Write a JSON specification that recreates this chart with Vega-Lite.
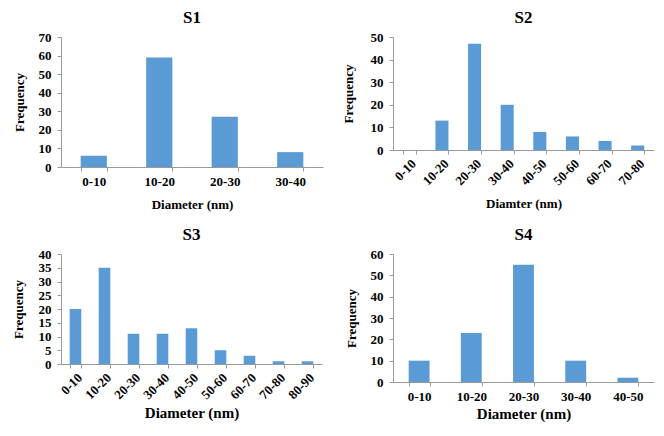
{
  "$schema": "https://vega.github.io/schema/vega-lite/v6.json",
  "padding": {"left": 12, "top": 9, "right": 5, "bottom": 5},
  "background": "white",
  "config": {
    "view": {"stroke": null},
    "font": "Liberation Serif",
    "bar": {"color": "#5B9BD5"},
    "axis": {
      "grid": false,
      "domainColor": "#9a9a9a",
      "tickColor": "#9a9a9a",
      "tickSize": 4,
      "labelFont": "Liberation Serif",
      "labelFontWeight": "bold",
      "labelFontSize": 13,
      "labelColor": "#000",
      "titleFont": "Liberation Serif",
      "titleFontWeight": "bold",
      "titleFontSize": 13,
      "titleColor": "#000"
    },
    "axisY": {"labelPadding": 6, "titlePadding": 12},
    "title": {"font": "Liberation Serif", "fontSize": 17, "fontWeight": "bold", "color": "#000", "baseline": "alphabetic", "offset": 4}
  },
  "datasets": {
    "s1": [
      {"bin": "0-10", "freq": 6}, {"bin": "10-20", "freq": 59}, {"bin": "20-30", "freq": 27}, {"bin": "30-40", "freq": 8}
    ],
    "s2": [
      {"bin": "0-10", "freq": 0}, {"bin": "10-20", "freq": 13}, {"bin": "20-30", "freq": 47}, {"bin": "30-40", "freq": 20},
      {"bin": "40-50", "freq": 8}, {"bin": "50-60", "freq": 6}, {"bin": "60-70", "freq": 4}, {"bin": "70-80", "freq": 2}
    ],
    "s3": [
      {"bin": "0-10", "freq": 20}, {"bin": "10-20", "freq": 35}, {"bin": "20-30", "freq": 11}, {"bin": "30-40", "freq": 11},
      {"bin": "40-50", "freq": 13}, {"bin": "50-60", "freq": 5}, {"bin": "60-70", "freq": 3}, {"bin": "70-80", "freq": 1}, {"bin": "80-90", "freq": 1}
    ],
    "s4": [
      {"bin": "0-10", "freq": 10}, {"bin": "10-20", "freq": 23}, {"bin": "20-30", "freq": 55}, {"bin": "30-40", "freq": 10}, {"bin": "40-50", "freq": 2}
    ]
  },
  "bounds": "flush",
  "columns": 2,
  "spacing": {"row": 87, "column": 70},
  "concat": [
    {
      "title": "S1",
      "width": 262, "height": 130,
      "data": {"name": "s1"},
      "mark": "bar",
      "encoding": {
        "x": {"field": "bin", "type": "nominal", "sort": null, "scale": {"paddingInner": 0.6, "paddingOuter": 0.3},
              "axis": {"title": "Diameter (nm)", "labelAngle": 0, "tickBand": "extent", "labelPadding": 4, "titlePadding": 10}},
        "y": {"field": "freq", "type": "quantitative", "scale": {"domain": [0, 70]},
              "axis": {"title": "Frequency", "values": [0, 10, 20, 30, 40, 50, 60, 70]}}
      }
    },
    {
      "title": "S2",
      "width": 261, "height": 113,
      "data": {"name": "s2"},
      "mark": "bar",
      "encoding": {
        "x": {"field": "bin", "type": "nominal", "sort": null, "scale": {"paddingInner": 0.6, "paddingOuter": 0.3},
              "axis": {"title": "Diamter (nm)", "labelAngle": -45, "tickBand": "extent", "labelPadding": 3, "titlePadding": 10}},
        "y": {"field": "freq", "type": "quantitative", "scale": {"domain": [0, 50]},
              "axis": {"title": "Frequency", "values": [0, 10, 20, 30, 40, 50], "titlePadding": 15}}
      }
    },
    {
      "title": "S3",
      "width": 261, "height": 110,
      "data": {"name": "s3"},
      "mark": "bar",
      "encoding": {
        "x": {"field": "bin", "type": "nominal", "sort": null, "scale": {"paddingInner": 0.6, "paddingOuter": 0.3},
              "axis": {"title": "Diameter (nm)", "labelAngle": -45, "tickBand": "extent", "labelPadding": 3, "titlePadding": 4, "titleFontSize": 15}},
        "y": {"field": "freq", "type": "quantitative", "scale": {"domain": [0, 40]},
              "axis": {"title": "Frequency", "values": [0, 5, 10, 15, 20, 25, 30, 35, 40], "titlePadding": 13}}
      }
    },
    {
      "title": "S4",
      "width": 261, "height": 128,
      "data": {"name": "s4"},
      "mark": "bar",
      "encoding": {
        "x": {"field": "bin", "type": "nominal", "sort": null, "scale": {"paddingInner": 0.6, "paddingOuter": 0.3},
              "axis": {"title": "Diameter (nm)", "labelAngle": 0, "tickBand": "extent", "labelPadding": 4, "titlePadding": 3, "titleFontSize": 15}},
        "y": {"field": "freq", "type": "quantitative", "scale": {"domain": [0, 60]},
              "axis": {"title": "Frequency", "values": [0, 10, 20, 30, 40, 50, 60]}}
      }
    }
  ]
}
